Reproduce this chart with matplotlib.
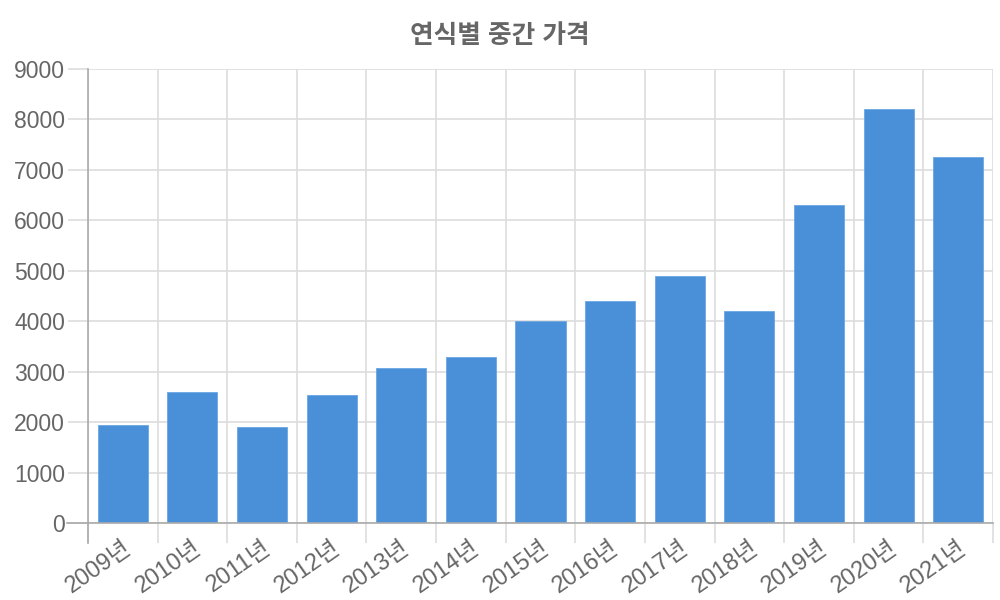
import matplotlib
matplotlib.use("Agg")
import matplotlib.pyplot as plt
import numpy as np

years = ["2009년", "2010년", "2011년", "2012년", "2013년", "2014년", "2015년",
         "2016년", "2017년", "2018년", "2019년", "2020년", "2021년"]
prices = [1950, 2600, 1900, 2550, 3075, 3300, 4000, 4400, 4900, 4200, 6300, 8200, 7250]
title = "연식별 중간 가격"

plt.rcParams['font.family'] = ['Liberation Sans', 'Noto Sans CJK KR', 'DejaVu Sans']

fig = plt.figure(figsize=(10, 6), dpi=100)
ax = fig.add_axes([0.088, 0.128, 0.905, 0.757])

n = len(years)
x = np.arange(n)
ax.bar(x, prices, width=0.72, color="#4a90d9", edgecolor="#6aa6e3", linewidth=0.6, zorder=3)

ax.set_xlim(-0.5, n - 0.5)
ax.set_ylim(0, 9000)
ax.set_yticks(np.arange(0, 9001, 1000))
ax.set_xticks(x)
ax.set_xticklabels(years, rotation=35, ha='right', rotation_mode='anchor',
                   fontsize=17, color="#666666")
ax.set_xticks(np.arange(-0.5, n, 1.0), minor=True)
ax.tick_params(axis='x', which='major', length=0, pad=10)
ax.tick_params(axis='x', which='minor', length=14.4, color="#dddddd", width=1.2)
ax.tick_params(axis='y', length=14.4, color="#dddddd", width=1.2, labelsize=16.5,
               labelcolor="#666666", pad=2)

ax.grid(True, axis='y', color="#dddddd", linewidth=1.2, zorder=0)
ax.grid(True, axis='x', which='minor', color="#dddddd", linewidth=1.2, zorder=0)
ax.grid(False, axis='x', which='major')

for s in ['top', 'right']:
    ax.spines[s].set_visible(False)
ax.spines['left'].set_color("#aaaaaa")
ax.spines['left'].set_linewidth(1.2)
ax.spines['bottom'].set_color("#aaaaaa")
ax.spines['bottom'].set_linewidth(1.2)
ax.spines['bottom'].set_zorder(4)
# extend the y axis line down through the first tick, and the zero line left
ax.plot([-0.5, -0.5], [0, -0.044], transform=ax.get_xaxis_transform(),
        color="#aaaaaa", linewidth=1.2, clip_on=False, zorder=5)
ax.plot([-0.023, 0], [0, 0], transform=ax.get_yaxis_transform(),
        color="#aaaaaa", linewidth=1.2, clip_on=False, zorder=5)

fig.text(0.5, 0.94, title, ha='center', va='center', fontsize=18.5,
         fontweight='bold', color="#666666")

fig.savefig("out.png", dpi=100, facecolor="white")
